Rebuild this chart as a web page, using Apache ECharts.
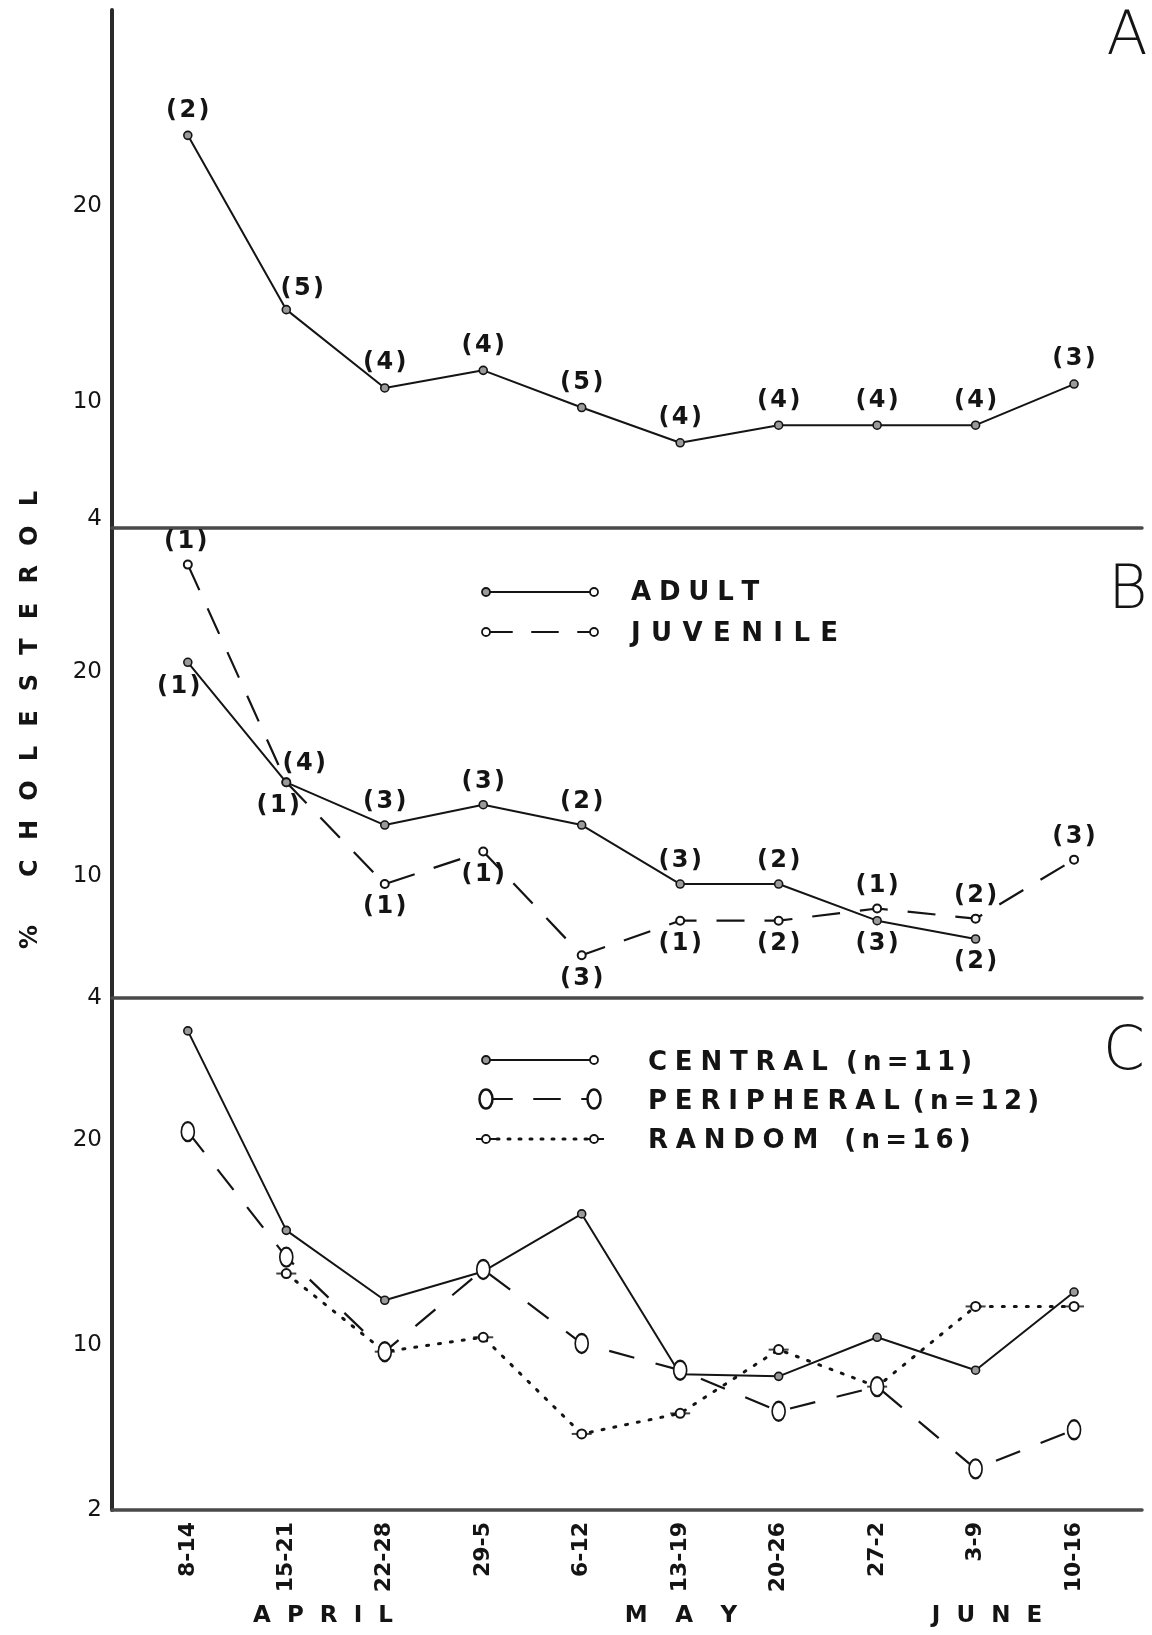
<!DOCTYPE html>
<html>
<head>
<meta charset="utf-8">
<title>% Cholesterol by week</title>
<script src="https://cdn.jsdelivr.net/npm/echarts@6/dist/echarts.min.js"></script>
<style>
  html, body { margin: 0; padding: 0; background: #fff; }
  #chart { width: 1152px; height: 1635px; }
</style>
</head>
<body>
<div id="chart"></div>
<script>
// Weekly sampling periods (April – June)
const weeks = ['8-14', '15-21', '22-28', '29-5', '6-12', '13-19', '20-26', '27-2', '3-9', '10-16'];

// Y tick labels for the three panels
const ticksA = [4, 10, 20];
const ticksB = [4, 10, 20];
const ticksC = [2, 10, 20];

// Panel A: all animals
const allA = [23.6, 14.7, 10.7, 11.6, 9.7, 7.9, 8.8, 8.8, 8.8, 10.9];
const nAllA = [2, 5, 4, 4, 5, 4, 4, 4, 4, 3];

// Panel B: adults vs juveniles
const adultB = [20.5, 14.6, 12.5, 13.5, 12.5, 9.6, 9.6, 7.8, 6.9, null];
const nAdultB = [1, 4, 3, 3, 2, 3, 2, 3, 2, null];
const juvenileB = [25.3, 14.6, 9.6, 11.2, 6.1, 7.8, 7.8, 8.4, 7.9, 10.8];
const nJuvenileB = [1, 1, 1, 1, 3, 1, 2, 1, 2, 3];

// Panel C: sampling site
const centralC = [25.3, 15.6, 12.2, 13.6, 16.4, 8.6, 8.5, 10.4, 8.8, 12.6];
const peripheralC = [20.4, 14.3, 9.7, 13.7, 10.1, 8.8, 6.8, 8.0, 4.0, 5.9];
const randomC = [null, 13.5, 9.7, 10.4, 5.7, 6.7, 9.8, 8.0, 11.9, 11.9];

const FONT = 'DejaVu Sans';
const INK = '#141414';
const AXIS = '#4a4a4a';

const chart = echarts.init(document.getElementById('chart'), null, { renderer: 'canvas' });

const idx = weeks.map((_, i) => i);

function spaced(str, gap) {
  return str.split('').join(gap);
}

function pts(values) {
  return values.map((v, i) => [i, v]);
}

// data items with "(n)" count labels; place[i] = [position, dx, dy]
function labelled(values, counts, place, defPos) {
  return values.map((v, i) => {
    if (v == null) return [i, null];
    const p = place[i] || [defPos, 0, 0];
    return {
      value: [i, v],
      label: {
        show: counts[i] != null,
        formatter: '(\u200a' + counts[i] + '\u200a)',
        position: p[0],
        offset: [p[1], p[2]]
      }
    };
  });
}

const countLabel = {
  show: true,
  fontFamily: FONT,
  fontSize: 24,
  fontWeight: 'bold',
  color: INK,
  distance: 6
};

const solidDot = {
  symbol: 'circle',
  symbolSize: 8,
  itemStyle: { color: '#9a9a9a', borderColor: INK, borderWidth: 1.6 }
};
const openDot = {
  symbol: 'emptyCircle',
  symbolSize: 8,
  itemStyle: { color: INK, borderColor: INK, borderWidth: 2 }
};

function xAxisFor(g, withLabels) {
  return {
    gridIndex: g,
    type: 'value',
    min: -0.77,
    max: 9.69,
    axisLine: { show: true, onZero: false, lineStyle: { color: AXIS, width: 3.5 } },
    axisTick: { show: false },
    splitLine: { show: false },
    axisLabel: withLabels ? {
      show: true,
      customValues: idx,
      formatter: v => weeks[Math.round(v)],
      rotate: 90,
      margin: 12,
      fontFamily: FONT,
      fontSize: 22,
      fontWeight: 'bold',
      color: INK
    } : { show: false }
  };
}

function yAxisFor(g, min, max, ticks) {
  return {
    gridIndex: g,
    type: 'value',
    min: min,
    max: max,
    axisLine: { show: true, onZero: false, lineStyle: { color: '#2a2a2a', width: 4 } },
    axisTick: { show: false },
    splitLine: { show: false },
    axisLabel: {
      customValues: ticks,
      margin: 10,
      fontFamily: FONT,
      fontSize: 23,
      color: INK
    }
  };
}

// legend samples drawn beside the curves
function sampleLine(y, dash) {
  return {
    type: 'line',
    shape: { x1: 486, y1: y, x2: 594, y2: y },
    style: { stroke: INK, lineWidth: dash === 'dot' ? 3 : 2, lineDash: dash === 'dot' ? [2, 9] : dash, lineCap: 'round' },
    z: 10
  };
}
function sampleDot(x, y, fill) {
  return { type: 'circle', shape: { cx: x, cy: y, r: 4 }, style: { fill: fill, stroke: INK, lineWidth: 1.8 }, z: 11 };
}
function sampleO(x, y) {
  return { type: 'ellipse', shape: { cx: x, cy: y, rx: 6.5, ry: 9.5 }, style: { fill: '#fff', stroke: INK, lineWidth: 2.5 }, z: 11 };
}
function sampleDash(x, y) {
  return { type: 'line', shape: { x1: x - 10, y1: y, x2: x + 10, y2: y }, style: { stroke: INK, lineWidth: 2 }, z: 10 };
}
function legendText(x, y, s) {
  return {
    type: 'text', x: x, y: y, z: 11,
    style: { text: s, fontFamily: FONT, fontSize: 26, fontWeight: 'bold', fill: INK, verticalAlign: 'middle', align: 'left' }
  };
}
function panelLetter(x, y, s) {
  return {
    type: 'text', x: x, y: y, z: 11,
    style: { text: s, fontFamily: FONT, fontSize: 60, fontWeight: 200, fill: INK, align: 'center', verticalAlign: 'middle' }
  };
}
function monthText(x, s, gap) {
  return {
    type: 'text', x: x, y: 1616, z: 11,
    style: { text: spaced(s, gap), fontFamily: FONT, fontSize: 23, fontWeight: 'bold', fill: INK, align: 'center', verticalAlign: 'middle' }
  };
}

const WIDE = '\u2009\u200a';
const TIGHT = '\u2009';

const option = {
  animation: false,
  backgroundColor: '#ffffff',
  grid: [
    { left: 112, right: 10, top: 10, height: 518 },
    { left: 112, right: 10, top: 528, height: 470 },
    { left: 112, right: 10, top: 998, height: 512 }
  ],
  xAxis: [xAxisFor(0, false), xAxisFor(1, false), xAxisFor(2, true)],
  yAxis: [
    yAxisFor(0, 3.55, 30, ticksA),
    yAxisFor(1, 4, 27.1, ticksB),
    yAxisFor(2, 2, 26.9, ticksC)
  ],
  series: [
    // Panel A
    Object.assign({
      name: 'All', type: 'line', xAxisIndex: 0, yAxisIndex: 0,
      lineStyle: { color: INK, width: 2 },
      label: Object.assign({}, countLabel, { distance: 8 }),
      data: labelled(allA, nAllA, { 1: ['top', 16, 4] }, 'top')
    }, solidDot),
    // Panel B
    Object.assign({
      name: 'ADULT', type: 'line', xAxisIndex: 1, yAxisIndex: 1,
      lineStyle: { color: INK, width: 2 },
      label: countLabel,
      data: labelled(adultB, nAdultB, {
        0: ['bottom', -9, 2], 1: ['top', 18, 4], 7: ['bottom', 0, 0], 8: ['bottom', 0, 0]
      }, 'top'),
      z: 3
    }, solidDot),
    Object.assign({
      name: 'JUVENILE', type: 'line', xAxisIndex: 1, yAxisIndex: 1,
      lineStyle: { color: INK, width: 2.2, type: [28, 20] },
      label: countLabel,
      data: labelled(juvenileB, nJuvenileB, {
        0: ['top', -2, 0], 1: ['bottom', -8, 0], 7: ['top', 0, 0], 8: ['top', 0, 0], 9: ['top', 0, 0]
      }, 'bottom'),
      z: 2
    }, openDot),
    // Panel C
    Object.assign({
      name: 'CENTRAL (n=11)', type: 'line', xAxisIndex: 2, yAxisIndex: 2,
      lineStyle: { color: INK, width: 2 },
      data: pts(centralC), z: 3
    }, solidDot),
    {
      name: 'PERIPHERAL (n=12)', type: 'line', xAxisIndex: 2, yAxisIndex: 2,
      lineStyle: { color: INK, width: 2.2, type: [26, 22] },
      symbol: 'emptyCircle', symbolSize: [13, 19],
      itemStyle: { color: INK, borderColor: INK, borderWidth: 2.5 },
      data: pts(peripheralC), z: 4
    },
    {
      name: 'RANDOM (n=16)', type: 'line', xAxisIndex: 2, yAxisIndex: 2,
      lineStyle: { color: INK, width: 3, type: [2, 10], cap: 'round' },
      symbol: 'emptyCircle', symbolSize: 9,
      itemStyle: { color: INK, borderColor: INK, borderWidth: 2 },
      data: pts(randomC), z: 3
    },
    // short crossbars through the random-sample markers
    {
      name: 'RANDOM marker bars', type: 'scatter', xAxisIndex: 2, yAxisIndex: 2,
      symbol: 'rect', symbolSize: [20, 2],
      itemStyle: { color: INK },
      data: pts(randomC).filter(p => p[1] != null), z: 2, silent: true
    }
  ],
  graphic: [
    // vertical axis title
    {
      type: 'text', x: 31, y: 720, rotation: Math.PI / 2, z: 11,
      style: {
        text: '%\u2003\u2003' + spaced('CHOLESTEROL', '\u2002\u2009\u200a'),
        fontFamily: FONT, fontSize: 24, fontWeight: 'bold', fill: INK,
        align: 'center', verticalAlign: 'middle'
      }
    },
    panelLetter(1127, 38, 'A'),
    panelLetter(1128, 592, 'B'),
    panelLetter(1124, 1053, 'C'),
    // legend, panel B
    sampleLine(592, null), sampleDot(486, 592, '#9a9a9a'), sampleDot(594, 592, '#fff'),
    legendText(631, 593, spaced('ADULT', WIDE)),
    sampleLine(632, [26, 20]), sampleDot(486, 632, '#fff'), sampleDot(594, 632, '#fff'),
    legendText(631, 634, spaced('JUVENILE', '\u2009\u2009')),
    // legend, panel C
    sampleLine(1060, null), sampleDot(486, 1060, '#9a9a9a'), sampleDot(594, 1060, '#fff'),
    legendText(648, 1063, spaced('CENTRAL', WIDE) + '\u2002\u2009' + spaced('(n=11)', TIGHT)),
    sampleLine(1099, [26, 22]), sampleO(486, 1099), sampleO(594, 1099),
    legendText(648, 1102, spaced('PERIPHERAL', WIDE) + '\u2002' + spaced('(n=12)', TIGHT)),
    sampleLine(1139, 'dot'), sampleDash(486, 1139), sampleDash(594, 1139),
    sampleDot(486, 1139, '#fff'), sampleDot(594, 1139, '#fff'),
    legendText(648, 1141, spaced('RANDOM', WIDE) + '\u2003' + spaced('(n=16)', TIGHT)),
    // month captions under the week labels
    monthText(323, 'APRIL', '\u2002\u2009'),
    monthText(681, 'MAY', '\u2003\u2009'),
    monthText(987, 'JUNE', '\u2002\u2009')
  ]
};

chart.setOption(option);
</script>
</body>
</html>
